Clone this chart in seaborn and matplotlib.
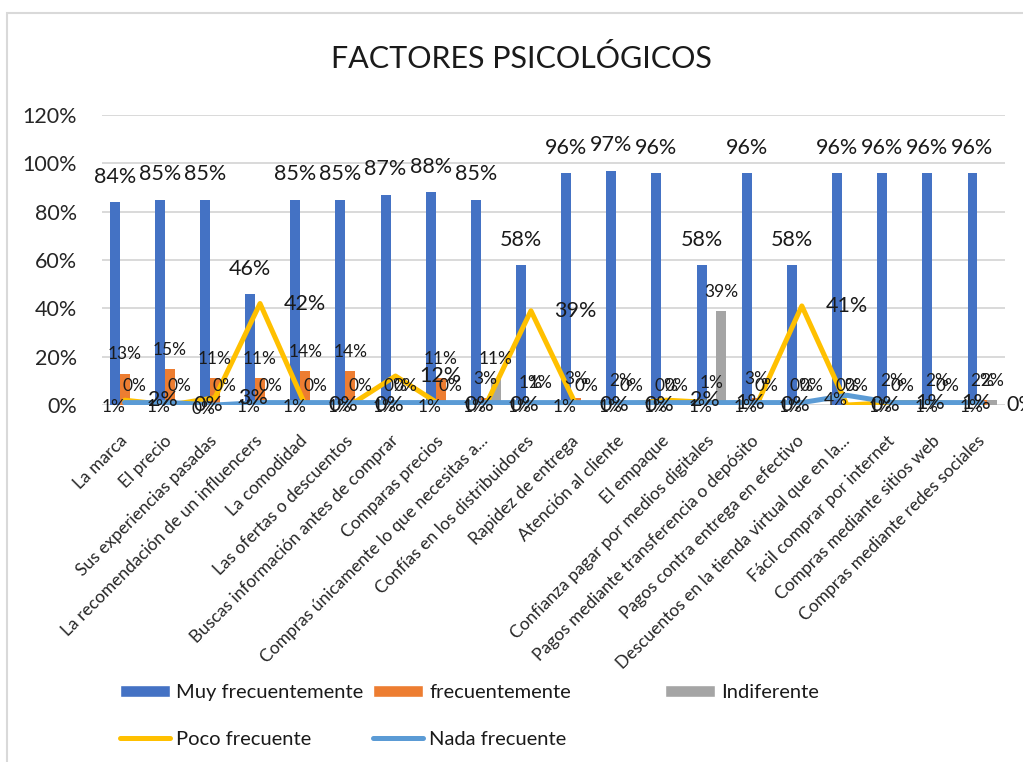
import numpy as np
import pandas as pd
import matplotlib
matplotlib.use("Agg")
import matplotlib.pyplot as plt
import matplotlib.transforms as mtransforms
from matplotlib.patches import Patch, Rectangle
from matplotlib.lines import Line2D
import seaborn as sns


# datos (porcentajes)
factores = [
    "La marca",
    "El precio",
    "Sus experiencias pasadas",
    "La recomendación de un influencers",
    "La comodidad",
    "Las ofertas o descuentos",
    "Buscas información antes de comprar",
    "Comparas precios",
    "Compras únicamente lo que necesitas a...",
    "Confías en los distribuidores",
    "Rapidez de entrega",
    "Atención al cliente",
    "El empaque",
    "Confianza pagar por medios digitales",
    "Pagos mediante transferencia o depósito",
    "Pagos contra entrega en efectivo",
    "Descuentos en la tienda virtual que en la...",
    "Fácil comprar por internet",
    "Compras mediante sitios web",
    "Compras mediante redes sociales",
]
muy_frec = [84, 85, 85, 46, 85, 85, 87, 88, 85, 58, 96, 97, 96, 58, 96, 58, 96, 96, 96, 96]
frec = [13, 15, 11, 11, 14, 14, 0, 11, 3, 1, 3, 2, 0, 1, 3, 0, 0, 2, 2, 2]
indif = [0, 0, 0, 0, 0, 0, 0, 0, 11, 1, 0, 0, 0, 39, 0, 0, 0, 0, 0, 2]
poco_frec = [2, 0, 3, 42, 0, 0, 12, 0, 0, 39, 0, 0, 2, 1, 0, 41, 0, 1, 1, 0]
nada_frec = [1, 1, 0, 1, 1, 1, 1, 1, 1, 1, 1, 1, 1, 1, 1, 1, 4, 1, 1, 1]

series_barras = ["Muy frecuentemente", "frecuentemente", "Indiferente"]
colores_barras = ["#4472C4", "#ED7D31", "#A5A5A5"]
color_poco = "#FFC000"
color_nada = "#5B9BD5"

sns.set_style("white")
plt.rcParams["font.family"] = ["Lato", "DejaVu Sans"]
plt.rcParams["text.color"] = "#1a1a1a"

barras = pd.DataFrame({
    "factor": factores * 3,
    "valor": muy_frec + frec + indif,
    "serie": [s for s in series_barras for _ in factores],
})
pos = np.arange(len(factores))

fig = plt.figure(figsize=(10.23, 7.62), dpi=100)
ax = fig.add_axes([102 / 1023, 1 - 405 / 762, 903 / 1023, 290 / 762])

sns.barplot(data=barras, x="factor", y="valor", hue="serie",
            order=factores, hue_order=series_barras, palette=colores_barras,
            width=0.66, saturation=1, errorbar=None, legend=False,
            linewidth=0, ax=ax, zorder=2)

sns.lineplot(x=pos, y=poco_frec, color=color_poco, lw=3.6, sort=False,
             estimator=None, solid_capstyle="round", ax=ax, zorder=3)
sns.lineplot(x=pos, y=nada_frec, color=color_nada, lw=3.6, sort=False,
             estimator=None, solid_capstyle="round", ax=ax, zorder=3)

# etiquetas de datos
for i, cont in enumerate(ax.containers):
    vals = [muy_frec, frec, indif][i]
    if i == 0:
        ax.bar_label(cont, labels=[f"{v}%" for v in vals], padding=11,
                     fontsize=15.5, zorder=4)
    else:
        ax.bar_label(cont, labels=[f"{v}%" for v in vals], padding=8,
                     fontsize=12.5, zorder=4)

for x, v in zip(pos, poco_frec):
    ax.annotate(f"{v}%", (x, v), xytext=(17, 0), textcoords="offset points",
                ha="left", va="center", fontsize=15.5, zorder=4)
for x, v in zip(pos, nada_frec):
    ax.annotate(f"{v}%", (x, v), xytext=(-8, -3), textcoords="offset points",
                ha="center", va="center", fontsize=12.5, zorder=4)

ax.set_xlim(-0.5, len(factores) - 0.5)
ax.set_ylim(0, 120)
ax.set_yticks(range(0, 121, 20))
ax.set_yticklabels([f"{v}%" for v in range(0, 121, 20)], fontsize=15.5)
ax.set_xticks(pos)
ax.set_xticklabels(factores, rotation=45, ha="right", va="center",
                   rotation_mode="anchor", fontsize=12.5)
desplaza = mtransforms.ScaledTranslation(5 / 100, 0, fig.dpi_scale_trans)
for lab in ax.get_xticklabels():
    lab.set_transform(lab.get_transform() + desplaza)
ax.set_xlabel("")
ax.set_ylabel("")
ax.tick_params(axis="both", length=0)
ax.tick_params(axis="x", pad=24)
ax.tick_params(axis="y", pad=18)
ax.yaxis.grid(True, color="#D9D9D9", lw=1.4)
ax.set_axisbelow(True)
sns.despine(ax=ax, left=True, bottom=True)

fig.text(521 / 1023, 1 - 58 / 762, "FACTORES PSICOLÓGICOS",
         ha="center", va="center", fontsize=22)

# marco del area del grafico
fig.add_artist(Rectangle((7 / 1023, -0.1), 1.2, 1.1 - 13 / 762,
                         transform=fig.transFigure, fill=False,
                         ec="#D9D9D9", lw=1.5))

# leyenda en tres columnas
h_muy = Patch(facecolor=colores_barras[0])
h_frec = Patch(facecolor=colores_barras[1])
h_ind = Patch(facecolor=colores_barras[2])
h_poco = Line2D([], [], color=color_poco, lw=3.6, solid_capstyle="round")
h_nada = Line2D([], [], color=color_nada, lw=3.6, solid_capstyle="round")

columnas = [
    (120, [h_muy, h_poco], ["Muy frecuentemente", "Poco frecuente"]),
    (373, [h_frec, h_nada], ["frecuentemente", "Nada frecuente"]),
    (665, [h_ind], ["Indiferente"]),
]
for x0, hs, ls in columnas:
    fig.legend(hs, ls, loc="upper left",
               bbox_to_anchor=(x0 / 1023, 1 - 684 / 762),
               frameon=False, fontsize=14.5, handlelength=2.5,
               handleheight=0.6, handletextpad=0.3, labelspacing=1.5,
               borderpad=0, borderaxespad=0)

fig.savefig("out.png", dpi=100)
